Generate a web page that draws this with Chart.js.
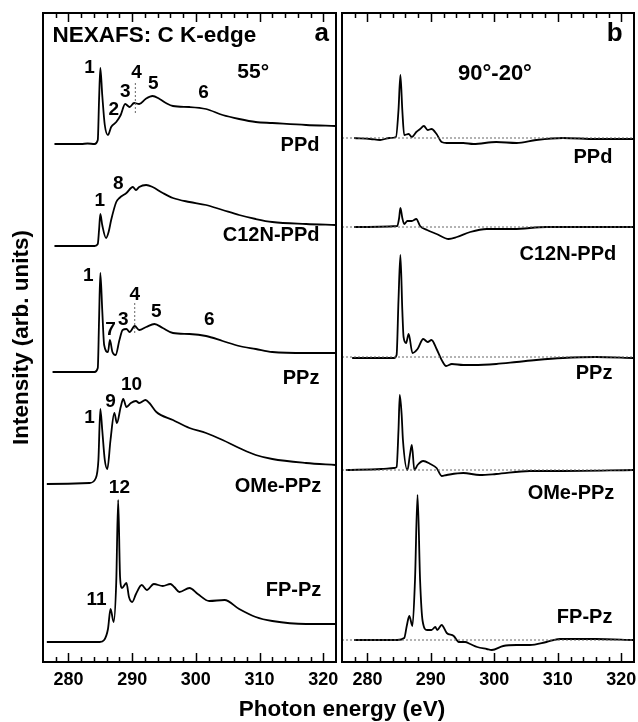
<!DOCTYPE html>
<html>
<head>
<meta charset="utf-8">
<script src="https://cdn.jsdelivr.net/npm/chart.js@4.4.0/dist/chart.umd.min.js"></script>
<style>
  body { margin: 0; background: #fff; width: 638px; height: 722px; position: relative; overflow: hidden; }
  #wrapA { position: absolute; left: 0; top: 0; width: 342px; height: 722px; }
  #wrapB { position: absolute; left: 338px; top: 0; width: 300px; height: 722px; }
  #xTitle { position: absolute; left: 142px; width: 400px; top: 697px; text-align: center;
            font: bold 22.5px "Liberation Sans", Arial, sans-serif; line-height: 24px; color: #000; }
</style>
</head>
<body>
<div id="wrapA"><canvas id="chartA" width="342" height="722"></canvas></div>
<div id="wrapB"><canvas id="chartB" width="300" height="722"></canvas></div>
<div id="xTitle">Photon energy (eV)</div>
<script>
// ---- data -----------------------------------------------------------
const xTicks = [280, 290, 300, 310, 320];
const samples = ['PPd', 'C12N-PPd', 'PPz', 'OMe-PPz', 'FP-Pz'];

// panel a: NEXAFS C K-edge at 55 deg (intensity above each baseline)
const ePPd = [277.8, 282.0, 283.0, 284.1, 284.6, 284.8, 285.0, 285.3, 285.7, 286.2, 286.7, 287.5, 288.2, 288.9, 289.6, 290.3, 291.1, 292.1, 293.2, 294.3, 295.3, 296.4, 299.0, 301.6, 304.2, 306.8, 309.4, 312.0, 317.3, 321.9];
const iPPd = [0, 0, 0.05, 0, 0.4, 4.4, 7.6, 4.9, 1.9, 0.9, 1.7, 2.2, 2.9, 4.0, 3.7, 4.1, 4.0, 4.5, 4.8, 4.5, 4.1, 3.8, 3.7, 3.5, 2.9, 2.5, 2.2, 2.1, 1.9, 1.8];

const eC12 = [277.8, 284.1, 284.6, 284.8, 285.0, 285.3, 285.9, 286.3, 286.7, 287.5, 288.0, 289.1, 290.1, 290.6, 291.1, 292.2, 293.2, 294.8, 296.4, 299.0, 301.6, 304.2, 306.8, 309.4, 312.0, 317.3, 321.9];
const iC12 = [0, 0, 0.2, 1.6, 3.2, 2.1, 0.8, 1.4, 2.6, 4.4, 4.8, 5.3, 5.9, 5.6, 5.9, 6.1, 5.9, 5.3, 4.8, 4.4, 4.1, 3.6, 3.1, 2.7, 2.4, 2.2, 2.1];

const ePPz = [277.5, 284.1, 284.6, 284.8, 285.0, 285.3, 285.6, 286.2, 286.5, 286.9, 287.4, 288.0, 288.5, 289.1, 289.6, 290.4, 291.1, 292.2, 293.5, 294.8, 296.4, 299.0, 301.6, 304.2, 306.8, 309.4, 312.0, 317.3, 321.9];
const iPPz = [0, 0, 0.4, 5.2, 9.9, 6.2, 2.7, 2.0, 3.2, 2.0, 1.7, 3.2, 4.2, 4.3, 4.0, 4.6, 4.2, 4.5, 4.8, 4.4, 3.9, 3.8, 3.6, 3.1, 2.6, 2.3, 2.0, 1.9, 1.9];

const eOMe = [276.6, 283.3, 284.3, 284.7, 285.0, 285.3, 285.7, 286.1, 286.6, 287.2, 287.6, 288.2, 288.6, 289.1, 289.8, 290.6, 291.1, 292.1, 292.7, 293.8, 296.4, 299.0, 301.6, 304.2, 306.8, 309.4, 312.0, 317.3, 321.9];
const iOMe = [0, 0.1, 0.6, 2.4, 7.5, 5.4, 2.4, 1.5, 4.4, 7.1, 6.1, 7.7, 8.5, 7.7, 8.1, 8.3, 8.1, 8.4, 8.1, 7.2, 6.4, 5.6, 5.1, 4.4, 3.6, 2.9, 2.5, 2.1, 1.9];

const eFP = [276.6, 284.9, 285.6, 286.2, 286.6, 287.1, 287.5, 287.8, 288.1, 288.4, 289.1, 289.5, 290.0, 290.6, 291.5, 292.3, 293.4, 294.8, 296.0, 296.6, 297.4, 299.0, 300.3, 302.1, 304.5, 306.8, 309.4, 312.0, 317.3, 321.9];
const iFP = [0, 0, 0.2, 1.3, 3.3, 2.0, 6.0, 14.2, 6.5, 5.4, 5.9, 4.5, 4.0, 4.8, 5.7, 5.2, 5.8, 5.6, 5.8, 5.5, 5.0, 5.4, 4.8, 4.1, 4.2, 3.3, 2.5, 2.1, 1.8, 1.8];

const offsetsA = [51.8, 41.6, 29.0, 17.8, 2.0];

// panel b: difference spectra 90 deg - 20 deg
const eDPPd = [277.9, 280.5, 282.0, 283.5, 284.5, 284.9, 285.2, 285.5, 285.8, 286.5, 287.0, 287.7, 288.3, 288.9, 289.5, 290.1, 290.9, 291.7, 292.5, 295.1, 296.7, 300.3, 303.5, 306.6, 310.8, 316.0, 321.9];
const dPPd = [0, -0.1, -0.2, 0, 0.1, 2.8, 6.3, 2.8, 0.3, 0.4, 0.1, 0.6, 0.9, 1.2, 0.8, 0.9, 0.4, -0.4, -0.5, -0.5, -0.6, -0.4, -0.5, -0.2, 0, -0.1, -0.1];

const eDC12 = [277.9, 284.7, 285.0, 285.2, 285.5, 285.8, 286.3, 287.0, 287.7, 288.3, 289.4, 290.9, 292.8, 294.1, 296.2, 298.8, 303.0, 308.2, 316.0, 321.9];
const dC12 = [0, 0.1, 0.9, 1.9, 0.9, 0.3, 0.6, 0.6, 0.8, 0.1, -0.3, -0.7, -1.2, -1.0, -0.5, -0.2, -0.2, 0, 0, 0];

const eDPPz = [277.6, 284.2, 284.6, 284.9, 285.2, 285.5, 285.7, 286.1, 286.5, 287.1, 287.9, 288.8, 289.5, 290.1, 290.9, 291.7, 292.4, 293.3, 295.1, 296.7, 300.3, 303.5, 306.6, 310.8, 316.0, 321.9];
const dPPz = [-0.1, -0.1, 0.2, 5.7, 10.2, 4.7, 2.0, 1.4, 2.3, 0.4, 0.8, 1.8, 1.5, 1.7, 0.8, -0.3, -0.9, -0.7, -0.8, -0.8, -0.7, -0.5, -0.3, -0.1, 0, -0.1];

const eDOMe = [276.6, 282.2, 284.2, 284.6, 284.9, 285.1, 285.4, 285.6, 286.3, 286.7, 287.0, 287.4, 287.9, 288.8, 289.9, 290.9, 291.7, 292.5, 295.1, 297.7, 300.3, 305.6, 310.8, 321.9];
const dOMe = [0, 0.1, 0.2, 0.3, 4.0, 7.5, 5.5, 3.0, 0, 1.5, 2.5, 0, 0.5, 0.9, 0.6, 0.2, -0.6, -0.5, -0.3, -0.5, -0.4, -0.1, -0.1, 0];

const eDFP = [277.9, 284.7, 285.8, 286.2, 286.6, 287.1, 287.5, 287.9, 288.3, 288.7, 289.4, 290.1, 290.7, 291.0, 291.7, 292.5, 293.6, 294.4, 295.4, 296.2, 297.3, 298.8, 299.6, 301.4, 303.5, 305.6, 308.2, 310.3, 316.0, 321.9];
const dFP = [0, 0, 0.2, 1.4, 2.4, 1.4, 6.0, 14.5, 6.0, 1.9, 1.0, 1.0, 1.3, 1.0, 1.5, 0.7, 0.4, -0.2, -0.2, -0.4, -0.7, -0.9, -1.0, -0.6, -0.5, -0.5, -0.2, 0.1, 0.1, 0];

const offsetsB = [52.4, 43.5, 30.5, 19.2, 2.2];

// peak numbers in panel a (energy, height in axis units)
const peakText = ['1', '2', '3', '4', '5', '6', '1', '8', '1', '7', '3', '4', '5', '6', '1', '9', '10', '12', '11'];
const peakE = [283.3, 287.1, 288.9, 290.7, 293.3, 301.2, 284.9, 287.8, 283.1, 286.6, 288.6, 290.4, 293.8, 302.1, 283.3, 286.6, 289.9, 288.0, 284.4];
const peakV = [59.4, 55.2, 57.0, 58.9, 57.8, 56.9, 46.1, 47.8, 38.6, 33.2, 34.2, 36.7, 35.0, 34.2, 24.4, 26.0, 27.7, 17.4, 6.2];

// dotted marker at peak 4 (sample index, energy, from, to above baseline)
const markSample = [0, 2];
const markE = [290.5, 290.4];
const markFrom = [3.1, 3.9];
const markTo = [6.1, 6.9];

// sample name positions
const nameE_A = [319.4, 319.4, 319.4, 319.7, 319.7];
const nameV_A = [51.7, 42.7, 28.4, 17.6, 7.2];
const nameE_B = [318.6, 319.2, 318.6, 318.9, 318.6];
const nameV_B = [50.5, 40.8, 28.9, 16.9, 4.5];

// ---- chart ----------------------------------------------------------
const FONT = '"Liberation Sans", Arial, Helvetica, sans-serif';
Chart.defaults.font.family = FONT;
Chart.defaults.color = '#000';

function pts(es, is, off) {
  return es.map((e, i) => ({x: e, y: off + is[i]}));
}

function curve(data) {
  return {data: data, borderColor: '#000', borderWidth: 1.8, pointRadius: 0,
          cubicInterpolationMode: 'monotone', fill: false};
}

function dotted(data) {
  return {data: data, borderColor: '#666', borderWidth: 1, borderDash: [2, 2],
          pointRadius: 0, fill: false};
}

// inward ticks, frame and text labels
const framePlugin = {
  id: 'frame',
  afterDatasetsDraw(chart, args, opts) {
    const {ctx, chartArea: a, scales: {x, y}} = chart;
    ctx.save();
    ctx.strokeStyle = '#000';
    ctx.lineWidth = 1.5;
    for (let v = 278; v <= 320; v += 2) {
      const px = Math.round(x.getPixelForValue(v)) + 0.5;
      const len = v % 10 === 0 ? 9 : 5;
      ctx.beginPath();
      ctx.moveTo(px, a.bottom); ctx.lineTo(px, a.bottom - len);
      ctx.moveTo(px, a.top); ctx.lineTo(px, a.top + len);
      ctx.stroke();
    }
    ctx.lineWidth = 2;
    ctx.strokeRect(a.left, a.top, a.width, a.height);
    ctx.fillStyle = '#000';
    ctx.textBaseline = 'middle';
    opts.labels.forEach(l => {
      ctx.font = 'bold ' + l.size + 'px ' + FONT;
      ctx.textAlign = l.align || 'center';
      ctx.fillText(l.text, x.getPixelForValue(l.e), y.getPixelForValue(l.v));
    });
    ctx.restore();
  }
};

function xScale() {
  return {
    type: 'linear', min: 276, max: 322,
    afterBuildTicks: s => { s.ticks = xTicks.map(v => ({value: v})); },
    afterFit: s => { s.height = 60; },
    ticks: {font: {size: 18, weight: 'bold'}, color: '#000', padding: 0, maxRotation: 0, autoSkip: false},
    grid: {display: false, drawTicks: true, tickLength: 7},
    border: {display: false}
  };
}

function makeChart(id, datasets, labels, yTitle, padding) {
  const yScale = {
    type: 'linear', min: 0, max: 64.9,
    display: false
  };
  if (yTitle) {
    Object.assign(yScale, {
      display: true,
      afterFit: s => { s.width = 43; },
      ticks: {display: false},
      grid: {display: false, drawTicks: false},
      border: {display: false},
      title: {display: true, text: yTitle, color: '#000',
              font: {size: 22.5, weight: 'bold'}, padding: {top: 8, bottom: 0}}
    });
  }
  return new Chart(document.getElementById(id), {
    type: 'line',
    data: {datasets: datasets},
    plugins: [framePlugin],
    options: {
      responsive: false,
      animation: false,
      layout: {padding: padding},
      plugins: {legend: {display: false}, tooltip: {enabled: false}, frame: {labels: labels}},
      scales: {x: xScale(), y: yScale}
    }
  });
}

// panel a
const specA = [[ePPd, iPPd], [eC12, iC12], [ePPz, iPPz], [eOMe, iOMe], [eFP, iFP]];
const dsA = [];
markSample.forEach((s, k) => {
  dsA.push(dotted([{x: markE[k], y: offsetsA[s] + markFrom[k]}, {x: markE[k], y: offsetsA[s] + markTo[k]}]));
});
specA.forEach((sp, k) => dsA.push(curve(pts(sp[0], sp[1], offsetsA[k]))));

const labelsA = [
  {text: 'NEXAFS: C K-edge', e: 277.5, v: 62.6, size: 22.5, align: 'left'},
  {text: 'a', e: 320.9, v: 62.8, size: 26, align: 'right'},
  {text: '55°', e: 309.0, v: 59.0, size: 21}
];
peakText.forEach((t, k) => labelsA.push({text: t, e: peakE[k], v: peakV[k], size: 19}));
samples.forEach((s, k) => labelsA.push({text: s, e: nameE_A[k], v: nameV_A[k], size: 20, align: 'right'}));

makeChart('chartA', dsA, labelsA, 'Intensity (arb. units)', {left: 0, right: 6, top: 13, bottom: 0});

// panel b
const specB = [[eDPPd, dPPd], [eDC12, dC12], [eDPPz, dPPz], [eDOMe, dOMe], [eDFP, dFP]];
const dsB = [];
offsetsB.forEach(o => dsB.push(dotted([{x: 276, y: o}, {x: 322, y: o}])));
specB.forEach((sp, k) => dsB.push(curve(pts(sp[0], sp[1], offsetsB[k]))));

const labelsB = [
  {text: 'b', e: 320.2, v: 62.8, size: 26, align: 'right'},
  {text: '90°-20°', e: 300.1, v: 58.8, size: 22}
];
samples.forEach((s, k) => labelsB.push({text: s, e: nameE_B[k], v: nameV_B[k], size: 20, align: 'right'}));

makeChart('chartB', dsB, labelsB, '', {left: 4, right: 4, top: 13, bottom: 0});
</script>
</body>
</html>
